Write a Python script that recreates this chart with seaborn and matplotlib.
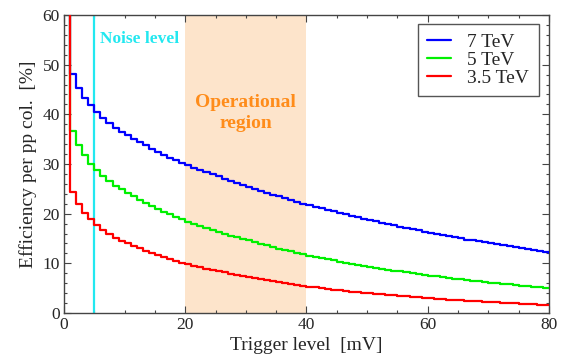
import numpy as np
import pandas as pd
import matplotlib
matplotlib.use("Agg")
import matplotlib.pyplot as plt
import seaborn as sns

# trigger level in mV (step starts), efficiency in % per pp collision
trigger_mv = list(range(0, 81))

eff_7tev = [75.0,
            48.2, 45.4, 43.3, 41.9, 40.5, 39.2, 38.2, 37.2, 36.5, 35.8,
            35.1, 34.4, 33.8, 33.1, 32.5, 31.9, 31.3, 30.8, 30.2, 29.7,
            29.2, 28.8, 28.3, 27.9, 27.5, 27.0, 26.6, 26.2, 25.8, 25.4,
            25.0, 24.6, 24.2, 23.8, 23.5, 23.1, 22.7, 22.4, 22.0, 21.7,
            21.4, 21.1, 20.8, 20.5, 20.2, 19.9, 19.6, 19.3, 19.0, 18.7,
            18.5, 18.2, 17.9, 17.7, 17.4, 17.2, 16.9, 16.7, 16.4, 16.2,
            16.0, 15.7, 15.5, 15.3, 15.1, 14.8, 14.6, 14.4, 14.2, 14.0,
            13.8, 13.6, 13.4, 13.2, 13.0, 12.8, 12.6, 12.5, 12.3, 12.1]

eff_5tev = [75.0,
            36.7, 33.8, 31.8, 30.1, 28.8, 27.6, 26.6, 25.6, 24.9, 24.2,
            23.5, 22.8, 22.2, 21.6, 21.0, 20.4, 19.9, 19.4, 18.9, 18.4,
            18.0, 17.6, 17.2, 16.8, 16.4, 16.0, 15.6, 15.3, 14.9, 14.6,
            14.2, 13.9, 13.6, 13.3, 12.9, 12.6, 12.4, 12.1, 11.8, 11.5,
            11.3, 11.0, 10.8, 10.6, 10.3, 10.1, 9.9, 9.7, 9.5, 9.3,
            9.1, 8.9, 8.7, 8.5, 8.4, 8.2, 8.0, 7.8, 7.7, 7.5,
            7.4, 7.2, 7.1, 6.9, 6.8, 6.6, 6.5, 6.4, 6.3, 6.1,
            6.0, 5.9, 5.8, 5.7, 5.5, 5.4, 5.3, 5.2, 5.1, 5.0]

eff_35tev = [75.0,
             24.3, 21.9, 20.1, 18.9, 17.8, 16.7, 15.9, 15.2, 14.5, 14.0,
             13.5, 13.0, 12.5, 12.0, 11.6, 11.2, 10.8, 10.5, 10.1, 9.8,
             9.5, 9.2, 8.9, 8.7, 8.4, 8.2, 7.9, 7.7, 7.4, 7.2,
             7.0, 6.8, 6.6, 6.4, 6.2, 6.0, 5.8, 5.6, 5.5, 5.3,
             5.2, 5.0, 4.9, 4.7, 4.6, 4.5, 4.3, 4.2, 4.1, 4.0,
             3.9, 3.8, 3.7, 3.6, 3.5, 3.4, 3.3, 3.2, 3.1, 3.0,
             2.9, 2.8, 2.7, 2.65, 2.57, 2.49, 2.41, 2.34, 2.27, 2.2,
             2.13, 2.06, 2.0, 1.94, 1.88, 1.82, 1.76, 1.71, 1.65, 1.6]

energies = ["7 TeV", "5 TeV", "3.5 TeV"]
colors = {"7 TeV": "#0000ff", "5 TeV": "#00f000", "3.5 TeV": "#ff0000"}

noise_level = 5
operational = (20, 40)

### build long df
df = pd.concat([
    pd.DataFrame({"trigger": trigger_mv, "eff": vals, "energy": name})
    for name, vals in zip(energies, [eff_7tev, eff_5tev, eff_35tev])
], ignore_index=True)

sns.set_style("ticks")
plt.rcParams['font.family'] = ['Liberation Serif', 'DejaVu Serif']

fig, ax = plt.subplots(figsize=(5.68, 3.59), dpi=100)
fig.subplots_adjust(left=0.1127, right=0.9665, bottom=0.1281, top=0.9582)

# operational region + noise line
ax.axvspan(operational[0], operational[1], color="#fde4cb", lw=0, zorder=0)
ax.axvline(noise_level, color="#22e8f0", lw=1.6, zorder=1)

sns.lineplot(data=df, x="trigger", y="eff", hue="energy", hue_order=energies,
             palette=colors, drawstyle="steps-post", lw=1.6, ax=ax, zorder=3)

ax.set(xlim=(0, 80), ylim=(0, 60))
ax.set_xlabel("Trigger level  [mV]", fontsize=14, labelpad=3)
ax.set_ylabel("Efficiency per pp col.  [%]", fontsize=14, labelpad=4)
ax.set_xticks([0, 20, 40, 60, 80])
ax.set_xticks(np.arange(0, 81, 5), minor=True)
ax.set_yticks(np.arange(0, 61, 10))
ax.set_yticks(np.arange(0, 61, 2), minor=True)
ax.tick_params(which="both", direction="in", top=True, right=True,
               labelsize=12.5, color="#444444", width=0.8)
ax.tick_params(which="major", length=5, pad=3)
ax.tick_params(which="minor", length=2.5)
for sp in ax.spines.values():
    sp.set_color("#444444")
    sp.set_linewidth(1.0)

ax.text(6.0, 55.2, "Noise level", color="#22e8f0", fontsize=12.5,
        fontweight="bold", va="center", ha="left")
ax.text(30, 40.3, "Operational\nregion", color="#ff8c1a", fontsize=14,
        fontweight="bold", va="center", ha="center", linespacing=1.3)

sns.move_legend(ax, loc="upper right", bbox_to_anchor=(0.979, 0.970),
                borderaxespad=0, title=None, frameon=True, fancybox=False,
                fontsize=14, handlelength=1.2, handletextpad=0.85,
                labelspacing=0.0, borderpad=0.5, edgecolor="#555555",
                framealpha=1)
ax.get_legend().get_frame().set_linewidth(1.0)

fig.savefig("out.png", dpi=100)
